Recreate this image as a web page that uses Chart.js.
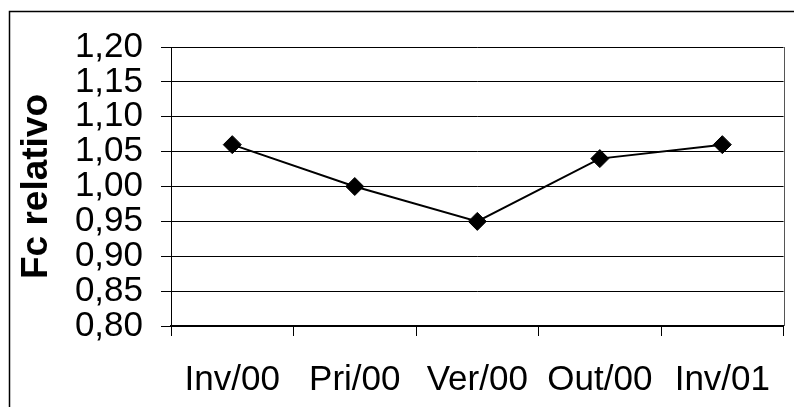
<!DOCTYPE html>
<html>
<head>
<meta charset="utf-8">
<script src="https://cdn.jsdelivr.net/npm/chart.js@4/dist/chart.umd.min.js"></script>
<style>
  html, body { margin: 0; padding: 0; background: #fff; }
  #wrap { width: 794px; height: 407px; position: relative; }
</style>
</head>
<body>
<div id="wrap"><canvas id="chart" width="794" height="407"></canvas></div>
<script>
// dados do gráfico
const periodos = ['Inv/00', 'Pri/00', 'Ver/00', 'Out/00', 'Inv/01'];
const fcRelativo = [1.06, 1.00, 0.95, 1.04, 1.06];
const eixoMin = 0.80;
const eixoMax = 1.20;
const eixoPasso = 0.05;
const tituloY = 'Fc relativo';

// moldura externa + borda direita da área do gráfico
const moldura = {
    id: 'moldura',
    afterDraw(chart) {
        const ctx = chart.ctx;
        const area = chart.chartArea;
        ctx.save();
        ctx.strokeStyle = '#000';
        ctx.lineWidth = 1.5;
        ctx.beginPath();
        ctx.moveTo(9.5, chart.height);
        ctx.lineTo(9.5, 11.5);
        ctx.lineTo(chart.width, 11.5);
        ctx.stroke();
        ctx.strokeStyle = '#555';
        ctx.lineWidth = 1;
        ctx.beginPath();
        ctx.moveTo(Math.round(area.right) + 0.5, area.top);
        ctx.lineTo(Math.round(area.right) + 0.5, area.bottom);
        ctx.stroke();
        ctx.restore();
    }
};

const ctx = document.getElementById('chart').getContext('2d');

new Chart(ctx, {
    type: 'line',
    data: {
        labels: periodos,
        datasets: [{
            data: fcRelativo,
            borderColor: '#000',
            borderWidth: 2,
            backgroundColor: '#000',
            pointStyle: 'rectRot',
            pointRadius: 9,
            pointBorderWidth: 1,
            tension: 0
        }]
    },
    options: {
        responsive: false,
        animation: false,
        layout: {
            padding: { left: 10, right: 8, top: 47, bottom: 0 }
        },
        plugins: {
            legend: { display: false },
            tooltip: { enabled: false }
        },
        scales: {
            x: {
                offset: true,
                grid: {
                    offset: true,
                    drawOnChartArea: false,
                    drawTicks: true,
                    tickLength: 10,
                    color: '#000'
                },
                border: { color: '#000', width: 2 },
                ticks: {
                    color: '#000',
                    padding: 23,
                    maxRotation: 0,
                    font: { family: 'Liberation Sans, Arial, sans-serif', size: 35 }
                },
                afterFit(scale) { scale.height = 81; }
            },
            y: {
                min: eixoMin,
                max: eixoMax,
                grid: {
                    color: '#000',
                    lineWidth: 1,
                    tickLength: 10
                },
                border: { color: '#000', width: 1 },
                ticks: {
                    stepSize: eixoPasso,
                    autoSkip: false,
                    color: '#000',
                    padding: 18,
                    font: { family: 'Liberation Sans, Arial, sans-serif', size: 35, lineHeight: 1 },
                    callback: v => (Math.round(v * 100) / 100).toFixed(2).replace('.', ',')
                },
                title: {
                    display: true,
                    text: tituloY,
                    color: '#000',
                    padding: { top: 5, bottom: 0 },
                    font: { family: 'Liberation Sans, Arial, sans-serif', size: 37, weight: 'bold' }
                },
                afterFit(scale) { scale.width = 161; }
            }
        }
    },
    plugins: [moldura]
});
</script>
</body>
</html>
